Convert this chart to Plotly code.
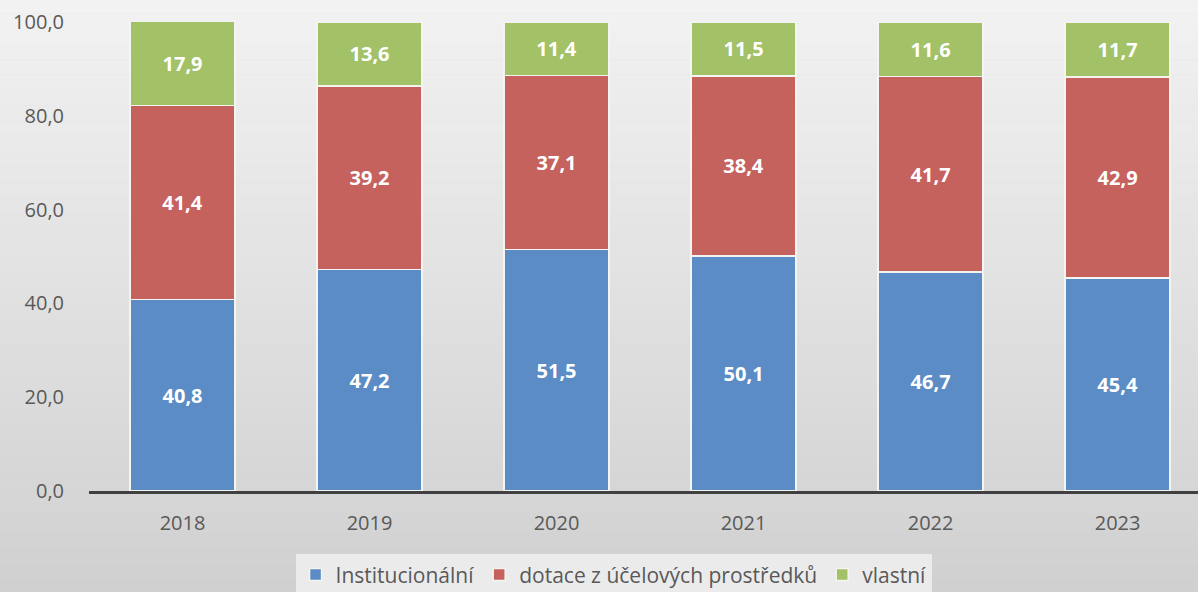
import plotly.graph_objects as go

years = ["2018", "2019", "2020", "2021", "2022", "2023"]
institucionalni = [40.8, 47.2, 51.5, 50.1, 46.7, 45.4]
dotace = [41.4, 39.2, 37.1, 38.4, 41.7, 42.9]
vlastni = [17.9, 13.6, 11.4, 11.5, 11.6, 11.7]

series = [
    ("Institucionální", institucionalni, "#5b8cc6"),
    ("dotace z účelových prostředků", dotace, "#c6625e"),
    ("vlastní", vlastni, "#a3c167"),
]

fig = go.Figure()
for name, vals, col in series:
    fig.add_trace(go.Bar(
        x=years, y=vals, name=name,
        marker=dict(color=col, line=dict(color="#f4f4f0", width=1.5)),
        width=0.56,
        texttemplate="%{y:.1f}", textposition="inside", insidetextanchor="middle",
        textfont=dict(family="Open Sans", size=20, color="white", weight="bold"),
        textangle=0,
    ))

# background gradient (styling)
shapes = []
n = 40
for i in range(n):
    t = i / (n - 1)
    c = int(242 - t * (242 - 208))
    shapes.append(dict(type="rect", xref="paper", yref="paper", layer="below",
                       x0=-0.1, x1=1.1, y0=1.05 - (i + 1) * (1.3 / n), y1=1.05 - i * (1.3 / n),
                       fillcolor=f"rgb({c},{c},{c})", line=dict(width=0)))

fig.update_layout(
    barmode="stack",
    width=1198, height=592,
    margin=dict(l=89, r=0, t=22, b=101, autoexpand=False),
    paper_bgcolor="#dcdcdc",
    plot_bgcolor="rgba(0,0,0,0)",
    separators=", ",
    shapes=shapes,
    font=dict(family="Open Sans", size=20, color="#595959"),
    xaxis=dict(range=[-0.5, 5.43], showgrid=False, showline=True, linecolor="#404040", linewidth=3,
               ticks="outside", ticklen=12, tickcolor="rgba(0,0,0,0)",
               tickfont=dict(size=20, color="#595959")),
    yaxis=dict(range=[0, 100], tickvals=[0, 20, 40, 60, 80, 100], tickformat=".1f",
               showgrid=False, zeroline=False, showline=False,
               ticks="outside", ticklen=20, tickcolor="rgba(0,0,0,0)",
               tickfont=dict(size=20, color="#595959")),
    legend=dict(orientation="h", x=0.473, xanchor="center", y=-0.135, yanchor="top",
                bgcolor="#ebebeb", font=dict(size=21, color="#595959"),
                itemwidth=30, traceorder="normal", tracegroupgap=0),
    bargap=0.44,
)

fig.write_html("out.html", config={"displayModeBar": False},
               post_script="document.body.style.margin='0';document.body.style.overflow='hidden';")
